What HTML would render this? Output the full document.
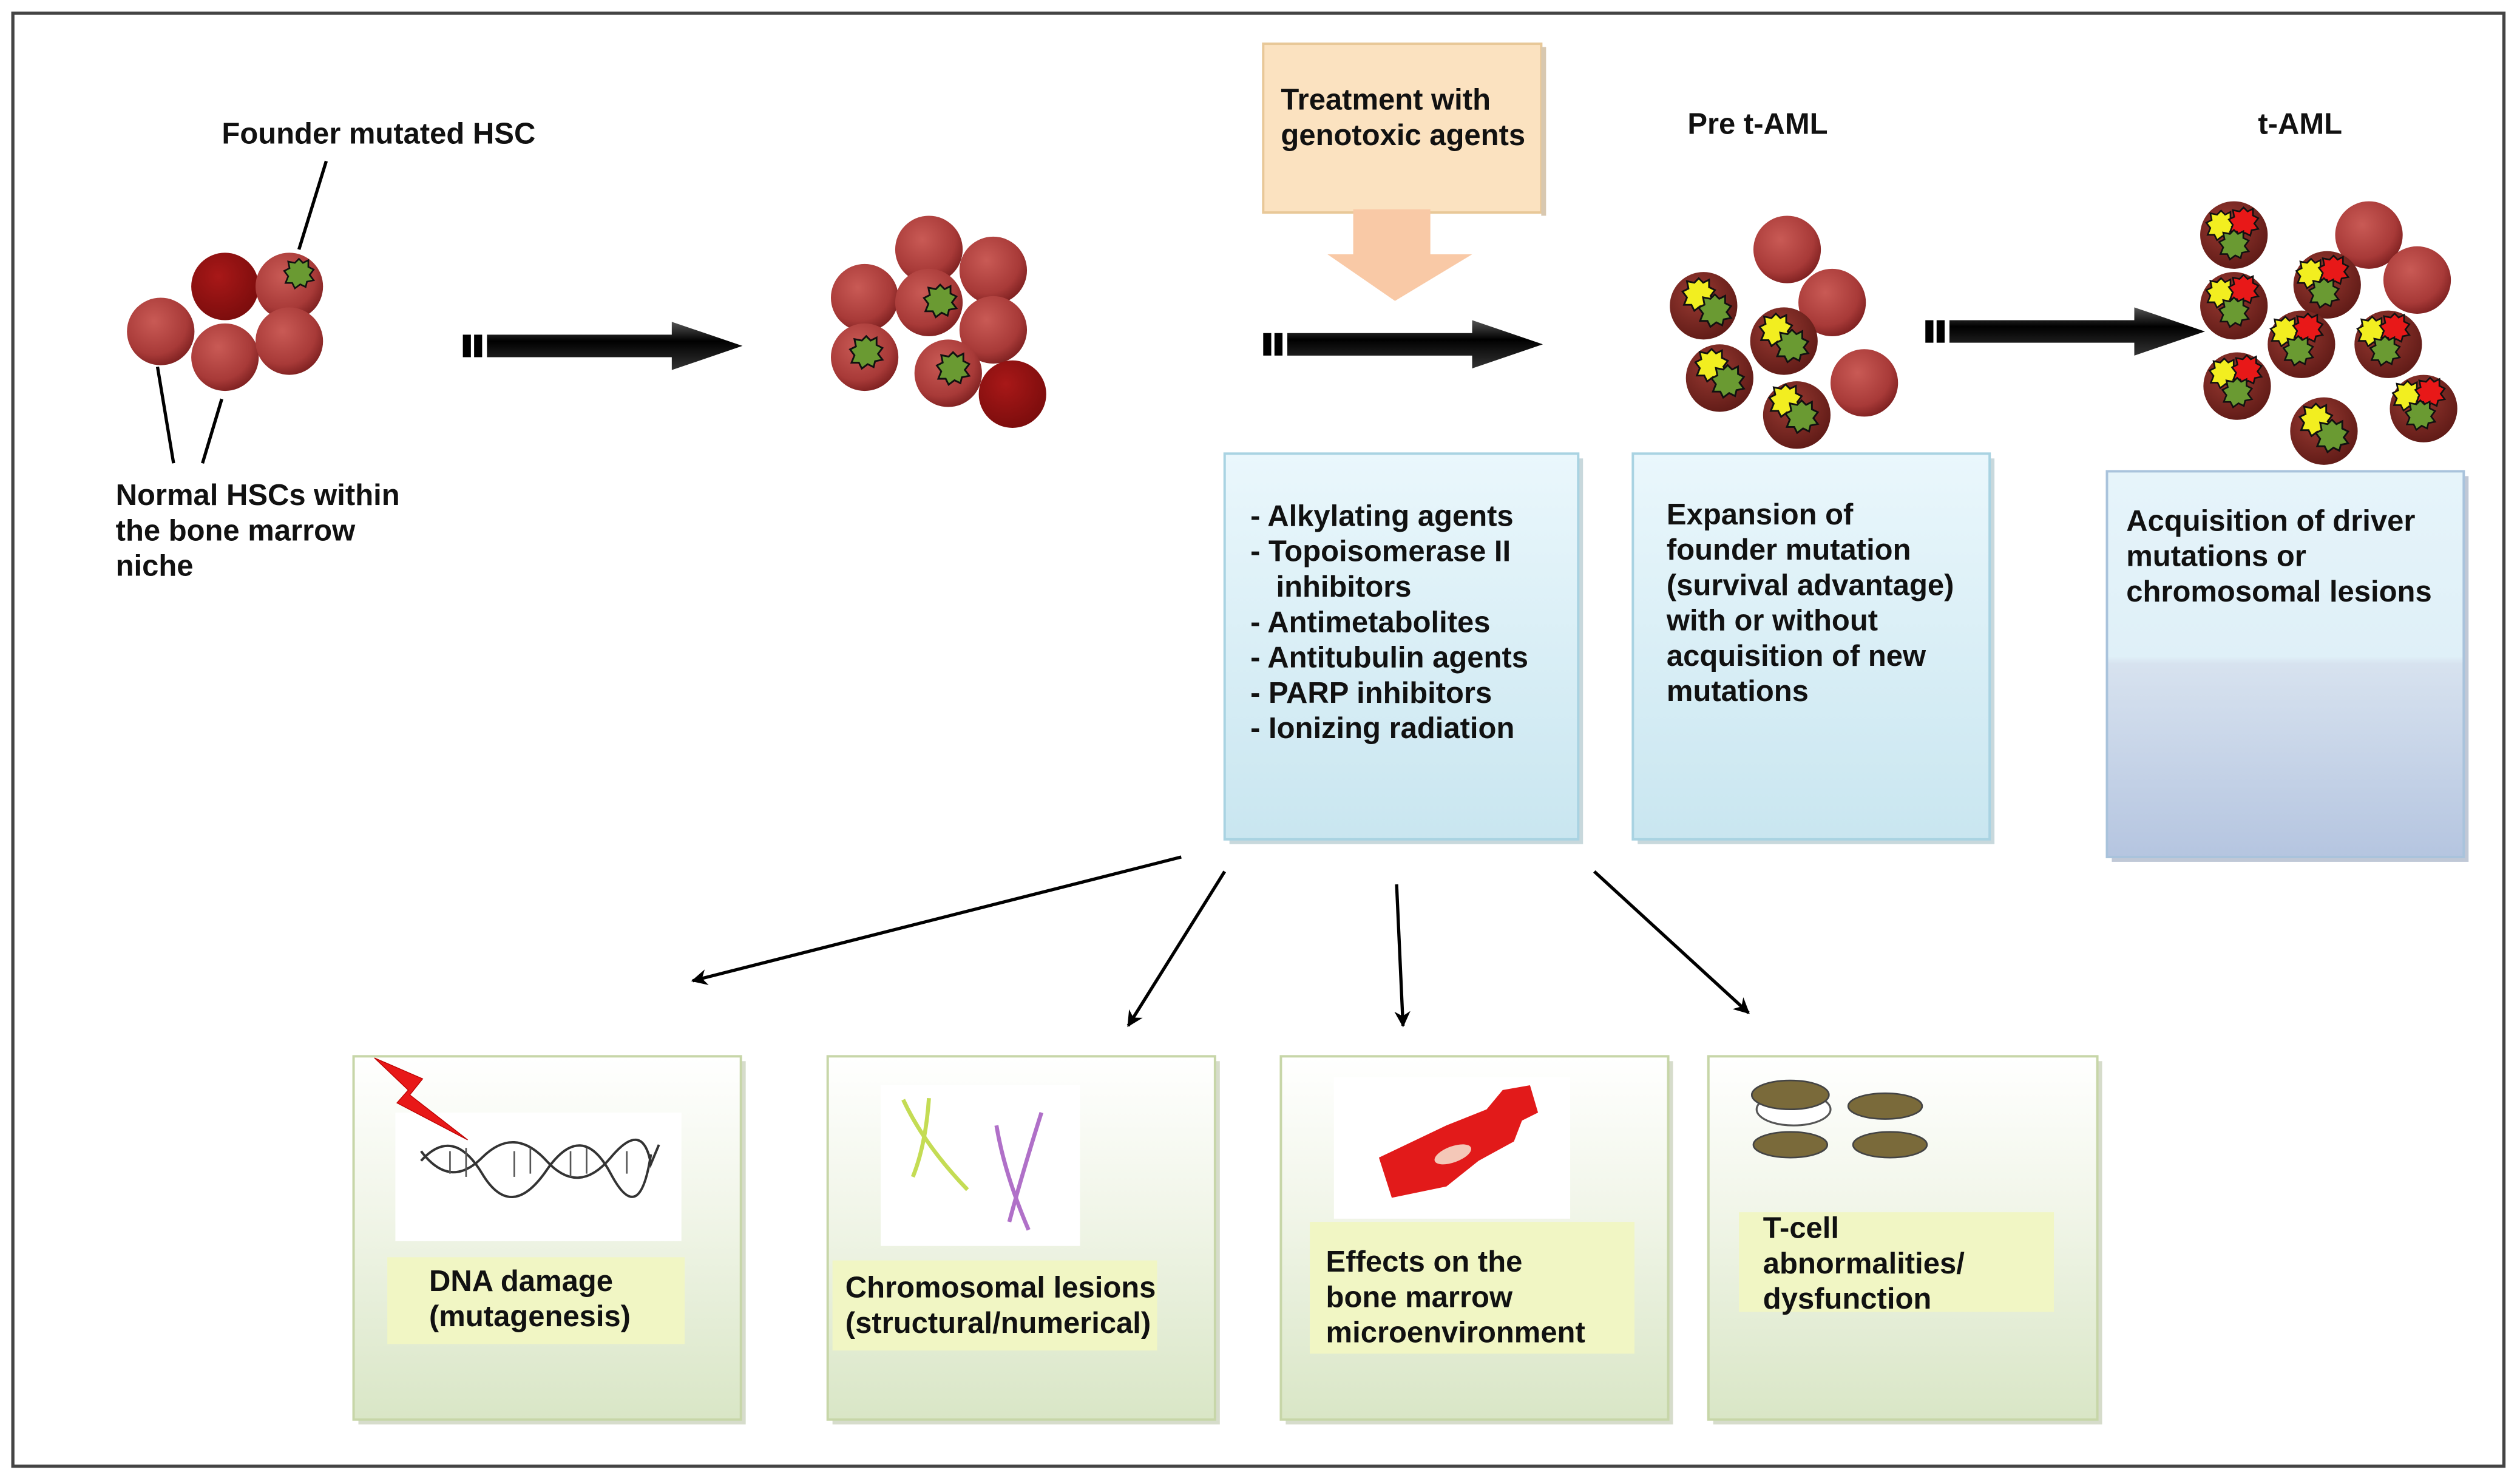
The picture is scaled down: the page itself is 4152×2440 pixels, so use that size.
<!DOCTYPE html>
<html><head><meta charset="utf-8"><style>
html,body{margin:0;padding:0;background:#fff;}
svg{display:block;}
text{font-family:"Liberation Sans",sans-serif;font-weight:bold;font-size:18.5px;fill:#111;}
</style></head><body>
<svg width="4152" height="2440" viewBox="0 0 1568 921" xmlns="http://www.w3.org/2000/svg">
<defs>
<radialGradient id="cg" cx="0.4" cy="0.35" r="0.7">
<stop offset="0" stop-color="#c95a55"/><stop offset="0.7" stop-color="#a83a38"/><stop offset="1" stop-color="#7a1e1e"/></radialGradient>
<radialGradient id="cd" cx="0.4" cy="0.35" r="0.7">
<stop offset="0" stop-color="#a81818"/><stop offset="1" stop-color="#7a0c0c"/></radialGradient>
<radialGradient id="cm" cx="0.4" cy="0.35" r="0.7">
<stop offset="0" stop-color="#9a3a32"/><stop offset="1" stop-color="#5e1a16"/></radialGradient>
<symbol id="cell" viewBox="-22 -22 44 44" overflow="visible"><circle r="21" fill="url(#cg)"/></symbol>
<symbol id="dcell" viewBox="-22 -22 44 44" overflow="visible"><circle r="21" fill="url(#cd)"/></symbol>
<symbol id="mcell" viewBox="-22 -22 44 44" overflow="visible"><circle r="21" fill="url(#cm)"/></symbol>
<symbol id="blob" viewBox="-12 -12 24 24" overflow="visible"><polygon points="0,-11 3,-8 7,-10 7,-5 11,-3 8,1 11,5 6,6 5,10 1,8 -3,11 -5,7 -10,7 -8,2 -11,-2 -7,-4 -8,-9 -3,-8" stroke="#111" stroke-width="1.2"/></symbol>
<g id="yg1"><use href="#blob" x="0" y="0" width="22" height="22" fill="#f2ee20"/><use href="#blob" x="10" y="10" width="22" height="22" fill="#6a9a32"/></g>
<g id="ryg"><use href="#blob" x="0" y="0" width="20" height="20" fill="#f2ee20"/><use href="#blob" x="14" y="-2" width="20" height="20" fill="#e81818"/><use href="#blob" x="8" y="12" width="20" height="20" fill="#6a9a32"/></g>
<g id="bigarrow">
<rect x="288" y="208" width="5" height="14" fill="#000"/><rect x="295" y="208" width="5" height="14" fill="#000"/>
<polygon points="303,208 418,208 418,200 462,215 418,230 418,222 303,222" fill="url(#ar)"/>
</g>
<linearGradient id="bl" x1="0" y1="0" x2="0" y2="1"><stop offset="0" stop-color="#eaf7fc"/><stop offset="1" stop-color="#c9e6f0"/></linearGradient>
<linearGradient id="bl3" x1="0" y1="0" x2="0" y2="1"><stop offset="0" stop-color="#e6f4fa"/><stop offset="0.48" stop-color="#dff0f8"/><stop offset="0.5" stop-color="#d7e2ef"/><stop offset="1" stop-color="#b5c5e0"/></linearGradient>
<linearGradient id="gr" x1="0" y1="0" x2="0" y2="1"><stop offset="0" stop-color="#ffffff"/><stop offset="0.4" stop-color="#f2f6ea"/><stop offset="1" stop-color="#d9e6c6"/></linearGradient>
<linearGradient id="ar" x1="0" y1="0" x2="0" y2="1"><stop offset="0" stop-color="#555"/><stop offset="0.4" stop-color="#000"/><stop offset="1" stop-color="#333"/></linearGradient>
<marker id="ah" markerWidth="10" markerHeight="10" refX="9" refY="5" orient="auto" markerUnits="userSpaceOnUse" viewBox="0 0 10 10"><path d="M0,0 L10,5 L0,10 L3,5 z" fill="#000"/></marker>
</defs>
<rect x="8" y="8" width="1550" height="904" fill="#fff" stroke="#444" stroke-width="2"/>

<!-- cluster 1 -->
<use href="#cell" x="78" y="184" width="44" height="44"/>
<use href="#dcell" x="118" y="156" width="44" height="44"/>
<use href="#cell" x="158" y="156" width="44" height="44"/>
<use href="#cell" x="118" y="200" width="44" height="44"/>
<use href="#cell" x="158" y="190" width="44" height="44"/>
<use href="#blob" x="176" y="160" width="20" height="20" fill="#6a9a32"/>
<text x="138" y="89">Founder mutated HSC</text>
<line x1="203" y1="100" x2="186" y2="155" stroke="#000" stroke-width="2"/>
<line x1="98" y1="228" x2="108" y2="288" stroke="#000" stroke-width="2"/>
<line x1="138" y1="248" x2="126" y2="288" stroke="#000" stroke-width="2"/>
<text x="72" y="314">Normal HSCs within</text>
<text x="72" y="336">the bone marrow</text>
<text x="72" y="358">niche</text>

<!-- big arrows -->
<use href="#bigarrow" x="0" y="0"/>
<use href="#bigarrow" x="498" y="-1"/>
<use href="#bigarrow" x="910" y="-9"/>

<!-- cluster 2 -->
<use href="#cell" x="556" y="133" width="44" height="44"/>
<use href="#cell" x="516" y="163" width="44" height="44"/>
<use href="#cell" x="596" y="146" width="44" height="44"/>
<use href="#cell" x="556" y="166" width="44" height="44"/>
<use href="#cell" x="596" y="183" width="44" height="44"/>
<use href="#cell" x="516" y="200" width="44" height="44"/>
<use href="#cell" x="568" y="210" width="44" height="44"/>
<use href="#dcell" x="608" y="223" width="44" height="44"/>
<use href="#blob" x="574" y="176" width="22" height="22" fill="#6a9a32"/>
<use href="#blob" x="528" y="208" width="22" height="22" fill="#6a9a32"/>
<use href="#blob" x="582" y="218" width="22" height="22" fill="#6a9a32"/>

<!-- treatment box -->
<rect x="786" y="27" width="173" height="105" fill="#fbe2c0" stroke="#e8c898" stroke-width="1.5"/>
<rect x="959" y="29" width="3" height="105" fill="#d8c8b0"/>
<text x="797" y="68">Treatment with</text>
<text x="797" y="90">genotoxic agents</text>
<polygon points="842,130 890,130 890,158 916,158 868,187 826,158 842,158" fill="#f9c9a6"/>

<!-- pre t-AML -->
<text x="1050" y="83">Pre t-AML</text>
<use href="#cell" x="1090" y="133" width="44" height="44"/>
<use href="#cell" x="1118" y="166" width="44" height="44"/>
<use href="#mcell" x="1038" y="168" width="44" height="44"/>
<use href="#mcell" x="1088" y="190" width="44" height="44"/>
<use href="#mcell" x="1048" y="213" width="44" height="44"/>
<use href="#cell" x="1138" y="216" width="44" height="44"/>
<use href="#mcell" x="1096" y="236" width="44" height="44"/>
<use href="#yg1" x="1046" y="172"/>
<use href="#yg1" x="1094" y="194"/>
<use href="#yg1" x="1054" y="216"/>
<use href="#yg1" x="1100" y="238"/>

<!-- t-AML -->
<text x="1405" y="83">t-AML</text>
<use href="#mcell" x="1368" y="124" width="44" height="44"/>
<use href="#cell" x="1452" y="124" width="44" height="44"/>
<use href="#mcell" x="1426" y="155" width="44" height="44"/>
<use href="#cell" x="1482" y="152" width="44" height="44"/>
<use href="#mcell" x="1368" y="168" width="44" height="44"/>
<use href="#mcell" x="1410" y="192" width="44" height="44"/>
<use href="#mcell" x="1464" y="192" width="44" height="44"/>
<use href="#mcell" x="1370" y="218" width="44" height="44"/>
<use href="#mcell" x="1424" y="246" width="44" height="44"/>
<use href="#mcell" x="1486" y="232" width="44" height="44"/>
<use href="#ryg" x="1372" y="130"/>
<use href="#ryg" x="1428" y="160"/>
<use href="#ryg" x="1372" y="172"/>
<use href="#ryg" x="1412" y="196"/>
<use href="#ryg" x="1466" y="196"/>
<use href="#ryg" x="1374" y="222"/>
<use href="#yg1" x="1430" y="250"/>
<use href="#ryg" x="1488" y="236"/>

<!-- blue boxes -->
<rect x="765" y="285" width="220" height="240" fill="#c8d8dc"/>
<rect x="762" y="282" width="220" height="240" fill="url(#bl)" stroke="#a9d3e2" stroke-width="1.5"/>
<text x="778" y="327">- Alkylating agents</text>
<text x="778" y="349">- Topoisomerase II</text>
<text x="794" y="371">inhibitors</text>
<text x="778" y="393">- Antimetabolites</text>
<text x="778" y="415">- Antitubulin agents</text>
<text x="778" y="437">- PARP inhibitors</text>
<text x="778" y="459">- Ionizing radiation</text>

<rect x="1019" y="285" width="222" height="240" fill="#c8d8dc"/>
<rect x="1016" y="282" width="222" height="240" fill="url(#bl)" stroke="#a9d3e2" stroke-width="1.5"/>
<text x="1037" y="326">Expansion of</text>
<text x="1037" y="348">founder mutation</text>
<text x="1037" y="370">(survival advantage)</text>
<text x="1037" y="392">with or without</text>
<text x="1037" y="414">acquisition of new</text>
<text x="1037" y="436">mutations</text>

<rect x="1314" y="296" width="222" height="240" fill="#c0c8d6"/>
<rect x="1311" y="293" width="222" height="240" fill="url(#bl3)" stroke="#a9c3dc" stroke-width="1.5"/>
<text x="1323" y="330">Acquisition of driver</text>
<text x="1323" y="352">mutations or</text>
<text x="1323" y="374">chromosomal lesions</text>

<!-- thin arrows -->
<g stroke="#000" stroke-width="2" marker-end="url(#ah)">
<line x1="735" y1="533" x2="431" y2="610"/>
<line x1="762" y1="542" x2="702" y2="638"/>
<line x1="869" y1="550" x2="873" y2="638"/>
<line x1="992" y1="542" x2="1088" y2="630"/>
</g>

<!-- bottom boxes -->
<g>
<rect x="223" y="660" width="241" height="226" fill="#d6dccb"/>
<rect x="220" y="657" width="241" height="226" fill="url(#gr)" stroke="#c7d6a8" stroke-width="1.5"/>
<rect x="518" y="660" width="241" height="226" fill="#d6dccb"/>
<rect x="515" y="657" width="241" height="226" fill="url(#gr)" stroke="#c7d6a8" stroke-width="1.5"/>
<rect x="800" y="660" width="241" height="226" fill="#d6dccb"/>
<rect x="797" y="657" width="241" height="226" fill="url(#gr)" stroke="#c7d6a8" stroke-width="1.5"/>
<rect x="1066" y="660" width="242" height="226" fill="#d6dccb"/>
<rect x="1063" y="657" width="242" height="226" fill="url(#gr)" stroke="#c7d6a8" stroke-width="1.5"/>
</g>
<!-- DNA -->
<rect x="246" y="692" width="178" height="80" fill="#fff"/>
<polygon points="233,658 263,671 255,681 291,709 247,686 254,678" fill="#e81818" stroke="#b00" stroke-width="0.5"/>
<path d="M262,716 Q280,740 300,720 T340,722 T380,720 T405,724 L410,712" fill="none" stroke="#333" stroke-width="1.5"/>
<path d="M262,722 Q282,700 300,730 T340,728 T380,730 T405,718" fill="none" stroke="#333" stroke-width="1.5"/>
<g stroke="#555" stroke-width="1"><line x1="280" y1="716" x2="280" y2="730"/><line x1="290" y1="714" x2="290" y2="732"/><line x1="320" y1="716" x2="320" y2="732"/><line x1="330" y1="714" x2="330" y2="730"/><line x1="355" y1="716" x2="355" y2="732"/><line x1="365" y1="714" x2="365" y2="730"/><line x1="390" y1="716" x2="390" y2="730"/></g>
<rect x="241" y="782" width="185" height="54" fill="#f1f6c4"/>
<text x="267" y="803">DNA damage</text>
<text x="267" y="825">(mutagenesis)</text>
<!-- chromosomes -->
<rect x="548" y="675" width="124" height="100" fill="#fff"/>
<path d="M562,684 Q575,712 602,740" stroke="#c4dc54" stroke-width="2.5" fill="none"/>
<path d="M578,683 Q576,712 568,732" stroke="#c4dc54" stroke-width="2.5" fill="none"/>
<path d="M620,700 Q625,730 640,765" stroke="#b070c8" stroke-width="2.5" fill="none"/>
<path d="M648,692 Q636,730 628,760" stroke="#b070c8" stroke-width="2.5" fill="none"/>
<rect x="518" y="784" width="202" height="56" fill="#f1f6c4"/>
<text x="526" y="807">Chromosomal lesions</text>
<text x="526" y="829">(structural/numerical)</text>
<!-- stroma -->
<rect x="830" y="670" width="147" height="88" fill="#fff"/>
<path d="M858,720 L900,700 L925,690 L935,678 L952,675 L957,692 L947,697 L942,710 L920,722 L900,738 L866,745 Z" fill="#e21a1a"/>
<ellipse cx="904" cy="718" rx="12" ry="5" fill="#f4c8b8" transform="rotate(-20 904 718)"/>
<rect x="815" y="760" width="202" height="82" fill="#f1f6c4"/>
<text x="825" y="791">Effects on the</text>
<text x="825" y="813">bone marrow</text>
<text x="825" y="835">microenvironment</text>
<!-- T-cells -->
<ellipse cx="1114" cy="684" rx="23" ry="10" fill="#fff" stroke="#555" stroke-width="1.2" transform="translate(2 6)"/>
<ellipse cx="1114" cy="681" rx="24" ry="9" fill="#7a6a3a" stroke="#444" stroke-width="1"/>
<ellipse cx="1173" cy="688" rx="23" ry="8" fill="#7a6a3a" stroke="#444" stroke-width="1"/>
<ellipse cx="1114" cy="712" rx="23" ry="8" fill="#7a6a3a" stroke="#444" stroke-width="1"/>
<ellipse cx="1176" cy="712" rx="23" ry="8" fill="#7a6a3a" stroke="#444" stroke-width="1"/>
<rect x="1082" y="754" width="196" height="62" fill="#f1f6c4"/>
<text x="1097" y="770">T-cell</text>
<text x="1097" y="792">abnormalities/</text>
<text x="1097" y="814">dysfunction</text>
</svg>
</body></html>
